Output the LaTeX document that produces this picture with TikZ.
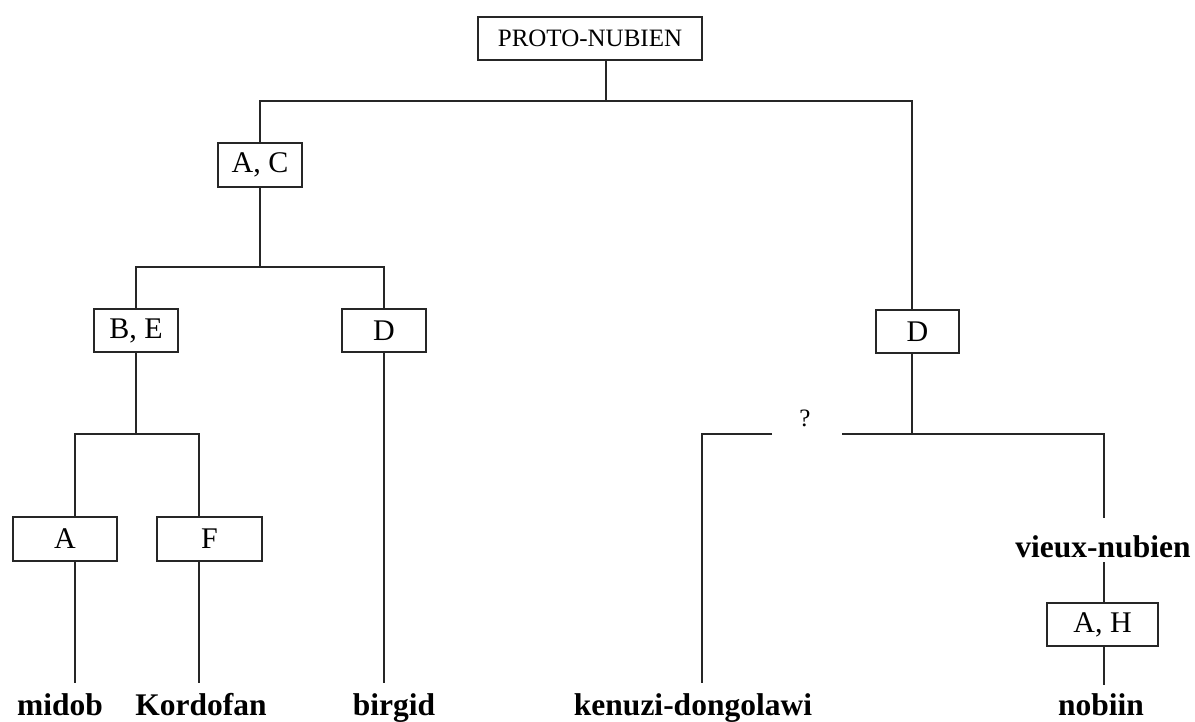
\documentclass[tikz,border=0pt]{standalone}
\usepackage{fontspec}
\setmainfont{Liberation Serif}
\newcommand\fsz[1]{\fontsize{#1}{#1}\selectfont}
\begin{document}
\begin{tikzpicture}[x=1pt,y=-1pt,
  box/.style={draw=black!85, line width=1.3pt, inner sep=0pt, minimum height=43pt, font=\fsz{30}},
  lbl/.style={inner sep=0pt, anchor=base, font=\fsz{31.5}\bfseries},
  ln/.style={draw=black!85, line width=1.3pt}]
\useasboundingbox (0,0) rectangle (1195,722);
% boxes
\node[box, minimum width=224pt, font=\fsz{25}] (proto) at (590,38.5) {PROTO-NUBIEN};
\node[box, minimum width=84pt, minimum height=44pt] (ac) at (260,165) {A, C};
\node[box, minimum width=84pt] (be) at (136,330.5) {B, E};
\node[box, minimum width=84pt] (dl) at (384,330.5) {D};
\node[box, minimum width=104pt, minimum height=44pt] (a) at (65,539) {A};
\node[box, minimum width=105pt, minimum height=44pt] (f) at (209.5,539) {F};
\node[box, minimum width=83pt] (dr) at (917.5,331.5) {D};
\node[box, minimum width=111pt] (ah) at (1102.5,624.5) {A, H};
\node[inner sep=0pt, font=\fsz{25}] (q) at (805,418) {?};
\node[inner sep=0pt, font=\fsz{31.5}\bfseries] (vieux) at (1103,547) {vieux-nubien};
% labels
\node[lbl] (midob) at (60,715) {midob};
\node[lbl] (kord) at (201,715) {Kordofan};
\node[lbl] (birgid) at (394,715) {birgid};
\node[lbl] (kenuzi) at (693,715) {kenuzi-dongolawi};
\node[lbl] (nobiin) at (1101,715) {nobiin};
% junctions
\coordinate (j0) at (606,101);
\coordinate (jl) at (260,101);
\coordinate (jr) at (912,101);
\coordinate (j1) at (260,267);
\coordinate (j2) at (136,434);
\coordinate (ja) at (75,434);
\coordinate (jf) at (199,434);
\coordinate (ea) at (75,683);
\coordinate (ef) at (199,683);
\coordinate (eb) at (384,683);
\coordinate (j3) at (912,434);
\coordinate (jq1) at (772,434);
\coordinate (jk) at (702,434);
\coordinate (ek) at (702,683);
\coordinate (jq2) at (842,434);
\coordinate (jn) at (1104,434);
\coordinate (ev1) at (1104,518);
\coordinate (ev2) at (1104,562);
\coordinate (en) at (1104,685);
% connectors
\draw[ln] (proto.south -| j0) -- (j0);
\draw[ln] (ac.north) -- (jl) -- (jr) -- (dr.north -| jr);
\draw[ln] (ac.south) -- (j1);
\draw[ln] (be.north) |- (j1) -| (dl.north);
\draw[ln] (be.south) -- (j2);
\draw[ln] (a.north -| ja) -- (ja) -- (jf) -- (f.north -| jf);
\draw[ln] (a.south -| ea) -- (ea);
\draw[ln] (f.south -| ef) -- (ef);
\draw[ln] (dl.south) -- (eb);
\draw[ln] (dr.south -| j3) -- (j3);
\draw[ln] (jq1) -- (jk) -- (ek);
\draw[ln] (jq2) -- (jn) -- (ev1);
\draw[ln] (ev2) -- (ah.north -| ev2);
\draw[ln] (ah.south -| en) -- (en);
\end{tikzpicture}
\end{document}
